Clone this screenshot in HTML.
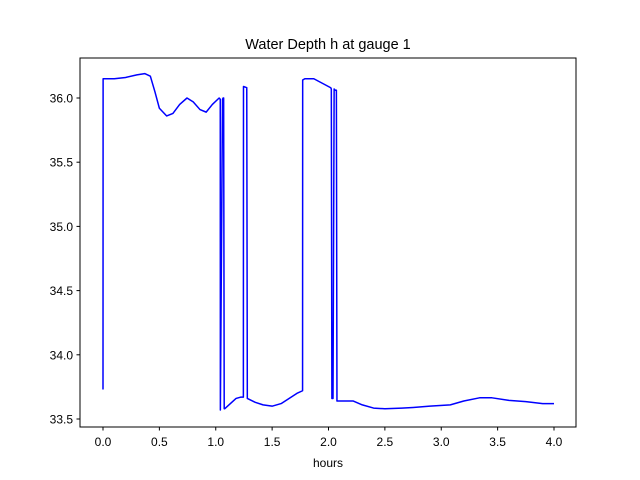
<!DOCTYPE html>
<html><head><meta charset="utf-8"><style>
body{margin:0;background:#fff;}
svg{display:block;font-family:"Liberation Sans","DejaVu Sans",sans-serif;}
</style></head><body>
<svg id="chart" width="640" height="480">
<rect x="0" y="0" width="640" height="480" fill="#fff"/>
<text x="328" y="49" font-size="14.5" text-anchor="middle">Water Depth h at gauge 1</text>
<g id="plot"></g>
<rect x="80" y="58" width="496" height="369" fill="none" stroke="#000" stroke-width="1"/>
<g id="xticks"></g><g id="yticks"></g>
<text x="328" y="467" font-size="12" text-anchor="middle">hours</text>
</svg>
<script>
const xVals=[0,0.001,0.1,0.2,0.3,0.37,0.42,0.46,0.5,0.565,0.62,0.68,0.745,0.8,0.86,0.915,0.97,1.03,1.04,1.041,1.06,1.065,1.07,1.075,1.08,1.13,1.18,1.22,1.245,1.246,1.275,1.28,1.35,1.42,1.5,1.58,1.65,1.72,1.77,1.771,1.79,1.81,1.87,2.02,2.025,2.03,2.04,2.05,2.06,2.07,2.075,2.15,2.22,2.3,2.4,2.5,2.65,2.75,2.9,3.08,3.2,3.34,3.45,3.6,3.75,3.9,4.0];
const yVals=[33.73,36.15,36.15,36.16,36.18,36.19,36.17,36.05,35.92,35.86,35.88,35.95,36.0,35.97,35.91,35.89,35.95,36.0,35.99,33.57,35.99,36.0,36.0,33.58,33.58,33.62,33.66,33.67,33.67,36.09,36.08,33.66,33.63,33.61,33.6,33.62,33.66,33.7,33.72,36.14,36.15,36.15,36.15,36.08,36.07,33.66,33.66,36.07,36.06,36.06,33.64,33.64,33.64,33.61,33.585,33.58,33.585,33.59,33.6,33.61,33.64,33.665,33.665,33.645,33.635,33.62,33.62];
const xTicks=[0,0.5,1,1.5,2,2.5,3,3.5,4];
const xTickLabels=["0.0","0.5","1.0","1.5","2.0","2.5","3.0","3.5","4.0"];
const yTicks=[33.5,34,34.5,35,35.5,36];
const yTickLabels=["33.5","34.0","34.5","35.0","35.5","36.0"];
const ns="http://www.w3.org/2000/svg";
function sx(v){return 103+v*112.75;}
function sy(v){return 98+(36-v)*128.4;}
const plot=document.getElementById('plot');
const path=document.createElementNS(ns,'path');
let d='';
for(let i=0;i<xVals.length;i++){d+=(i?'L':'M')+sx(xVals[i]).toFixed(2)+' '+sy(yVals[i]).toFixed(2);}
path.setAttribute('d',d);
path.setAttribute('fill','none');
path.setAttribute('stroke','#0000ff');
path.setAttribute('stroke-width','1.5');
path.setAttribute('stroke-linejoin','round');


plot.appendChild(path);
const xg=document.getElementById('xticks');
xTicks.forEach((t,i)=>{
 const l=document.createElementNS(ns,'line');
 l.setAttribute('x1',sx(t));l.setAttribute('x2',sx(t));l.setAttribute('y1',427);l.setAttribute('y2',430.5);l.setAttribute('stroke','#000');
 
 
 xg.appendChild(l);
 const tx=document.createElementNS(ns,'text');
 tx.setAttribute('x',sx(t));tx.setAttribute('y',446);tx.setAttribute('font-size','12');tx.setAttribute('text-anchor','middle');
 tx.textContent=xTickLabels[i];
 
 
 xg.appendChild(tx);
});
const yg=document.getElementById('yticks');
yTicks.forEach((t,i)=>{
 const l=document.createElementNS(ns,'line');
 l.setAttribute('x1',76.5);l.setAttribute('x2',80);l.setAttribute('y1',sy(t));l.setAttribute('y2',sy(t));l.setAttribute('stroke','#000');
 
 
 yg.appendChild(l);
 const tx=document.createElementNS(ns,'text');
 tx.setAttribute('x',73);tx.setAttribute('y',sy(t)+4.5);tx.setAttribute('font-size','12');tx.setAttribute('text-anchor','end');
 tx.textContent=yTickLabels[i];
 
 
 yg.appendChild(tx);
});
</script>
</body></html>
